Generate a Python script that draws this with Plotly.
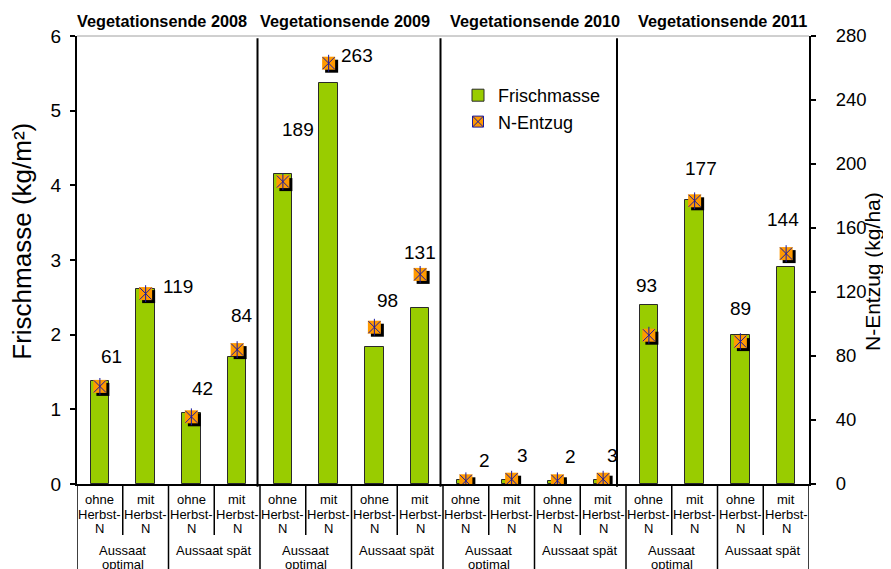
import plotly.graph_objects as go

# ---------------- data ----------------
year_titles = ["Vegetationsende 2008", "Vegetationsende 2009",
               "Vegetationsende 2010", "Vegetationsende 2011"]
sowing_labels = ["Aussaat<br>optimal", "Aussaat spät"]
fert_labels = [["ohne", "Herbst-", "N"], ["mit", "Herbst-", "N"]]
left_title = "Frischmasse (kg/m²)"
right_title = "N-Entzug (kg/ha)"

frischmasse = [1.38, 2.61, 0.95, 1.70,
               4.15, 5.37, 1.84, 2.36,
               0.05, 0.06, 0.04, 0.05,
               2.40, 3.80, 1.99, 2.90]
n_entzug = [61, 119, 42, 84,
            189, 263, 98, 131,
            2, 3, 2, 3,
            93, 177, 89, 144]

# ---------------- style / placement ----------------
FONT = "Liberation Sans, Arial, sans-serif"
W, H = 891, 569
OFF = 8  # default body margin of the html page
ML, MR, MT, MB = 77, 82, 36, 85
PW, PH = W - ML - MR, H - MT - MB
n = len(frischmasse)
xs = list(range(n))
px_per_cat = PW / n
SH = 3  # shadow offset in px
Y2MAX = 280

# label offsets (px) relative to marker, per point
label_dx = [12, 32, 11, 5, 15, 28, 13, 0, 19, 11, 13, 9, -2, 6, 0, -3]
label_dy = [30, 7, 28, 34, 52, 8, 27, 22, 20, 24, 24, 24, 50, 32, 33, 34]

fig = go.Figure()
fig.add_trace(go.Bar(
    x=xs, y=frischmasse, width=0.4, name="Frischmasse",
    marker=dict(color="#99CC00", line=dict(color="#2a2a2a", width=1)),
    xaxis="x", yaxis="y"))
# marker shadow
fig.add_trace(go.Scatter(
    x=xs, y=n_entzug, mode="markers", xaxis="x2", yaxis="y2", showlegend=False,
    marker=dict(symbol="square", size=13, color="black", line=dict(width=0))))
# orange square
fig.add_trace(go.Scatter(
    x=xs, y=n_entzug, mode="markers", xaxis="x3", yaxis="y3", showlegend=False,
    marker=dict(symbol="square", size=13, color="#FF9900", line=dict(width=0))))
fig.add_trace(go.Scatter(
    x=xs, y=n_entzug, mode="markers", xaxis="x3", yaxis="y3", showlegend=False,
    marker=dict(symbol="x-thin-open", size=12, color="#1a1aa0",
                line=dict(color="#1a1aa0", width=1))))
fig.add_trace(go.Scatter(
    x=xs, y=n_entzug, mode="markers", xaxis="x3", yaxis="y3", showlegend=False,
    marker=dict(symbol="line-ns-open", size=12, color="#1a1aa0",
                line=dict(color="#1a1aa0", width=1))))
# legend entry for N-Entzug
fig.add_trace(go.Scatter(
    x=[None], y=[None], mode="markers", xaxis="x3", yaxis="y3", name="N-Entzug",
    marker=dict(symbol="square-x", size=11, color="#FF9900",
                line=dict(color="#1a1aa0", width=1))))

ann = []
# data labels
for i, v in enumerate(n_entzug):
    ann.append(dict(x=xs[i], y=v, xref="x3", yref="y3", text=str(v), showarrow=False,
                    xshift=label_dx[i], yshift=label_dy[i],
                    font=dict(family=FONT, size=19, color="black")))
# year headers
hdr_shift = [-7, -6.5, 0, 4.5]
for k, t in enumerate(year_titles):
    ann.append(dict(x=4 * k + 1.5, y=1, xref="x", yref="paper", yanchor="middle",
                    yshift=15, xshift=hdr_shift[k], text="<b>" + t + "</b>", showarrow=False,
                    font=dict(family=FONT, size=16.3, color="black")))
# category labels
line_pos = [15, 30, 44]
for i in xs:
    lines = fert_labels[i % 2]
    for j, t in enumerate(lines):
        ann.append(dict(x=i, y=0, xref="x", yref="paper", yanchor="middle",
                        yshift=-line_pos[j], text=t, showarrow=False,
                        font=dict(family=FONT, size=13, color="black")))
for g in range(n // 2):
    lines = sowing_labels[g % 2].split("<br>")
    for j, t in enumerate(lines):
        ann.append(dict(x=2 * g + 0.5, y=0, xref="x", yref="paper", yanchor="middle",
                        yshift=-(66 + 14 * j), text=t, showarrow=False,
                        font=dict(family=FONT, size=13, color="black")))
# axis titles
ann.append(dict(x=(21.7 - ML) / PW, y=(H - MB - 241) / PH, xref="paper", yref="paper",
                xanchor="center", yanchor="middle", textangle=-90, showarrow=False,
                text=left_title, font=dict(family=FONT, size=26, color="black")))
ann.append(dict(x=(872 - ML) / PW, y=(H - MB - 272) / PH, xref="paper", yref="paper",
                xanchor="center", yanchor="middle", textangle=-90, showarrow=False,
                text=right_title, font=dict(family=FONT, size=21, color="black")))

shapes = []
# top plot border
shapes.append(dict(type="line", xref="paper", yref="paper", x0=0, x1=1, y0=1, y1=1,
                   line=dict(color="#a0a0a0", width=1)))
# category separators below the axis
for k in range(n + 1):
    y_end = -(H - MT - PH) / PH if k % 2 == 0 else -51 / PH
    shapes.append(dict(type="line", xref="x", yref="paper", x0=k - 0.5, x1=k - 0.5,
                       y0=0, y1=y_end, line=dict(color="black", width=1.5)))
# year separator lines
for xp in [0.2466, 0.4966, 0.7377]:
    shapes.append(dict(type="line", xref="paper", yref="paper", x0=xp, x1=xp,
                       y0=-0.006, y1=0.995, line=dict(color="black", width=2)))

sx = SH / px_per_cat
sy = SH * Y2MAX / PH
fig.update_layout(
    width=W - OFF, height=H - OFF,
    margin=dict(l=ML - OFF, r=MR, t=MT - OFF, b=MB, pad=0),
    paper_bgcolor="white", plot_bgcolor="white",
    font=dict(family=FONT, color="black"),
    bargap=0,
    showlegend=True,
    legend=dict(x=(458 - ML) / PW, y=(H - MB - 77) / PH, xanchor="left", yanchor="top",
                bgcolor="rgba(0,0,0,0)", font=dict(family=FONT, size=18, color="black"),
                traceorder="normal"),
    xaxis=dict(range=[-0.5, n - 0.5], showticklabels=False, ticks="", showgrid=False,
               zeroline=False, showline=True, linecolor="black", linewidth=2, fixedrange=True),
    xaxis2=dict(range=[-0.5 - sx, n - 0.5 - sx], overlaying="x", visible=False, anchor="y2"),
    xaxis3=dict(range=[-0.5, n - 0.5], overlaying="x", visible=False, anchor="y3"),
    yaxis=dict(range=[0, 6], dtick=1, ticks="outside", ticklen=5, tickwidth=1.5,
               tickcolor="black", showgrid=False, zeroline=False, showline=True,
               linecolor="black", linewidth=2, ticklabelstandoff=5,
               tickfont=dict(family=FONT, size=19, color="black")),
    yaxis2=dict(range=[sy, Y2MAX + sy], overlaying="y", visible=False, anchor="x2"),
    yaxis3=dict(range=[0, Y2MAX], dtick=40, overlaying="y", side="right", anchor="x3",
                ticks="outside", ticklen=5, tickwidth=1.5, tickcolor="black",
                ticklabelstandoff=16,
                showgrid=False, zeroline=False, showline=True, linecolor="black",
                linewidth=2, tickfont=dict(family=FONT, size=18.5, color="black")),
    annotations=ann,
    shapes=shapes,
)

fig.write_html("out.html")
